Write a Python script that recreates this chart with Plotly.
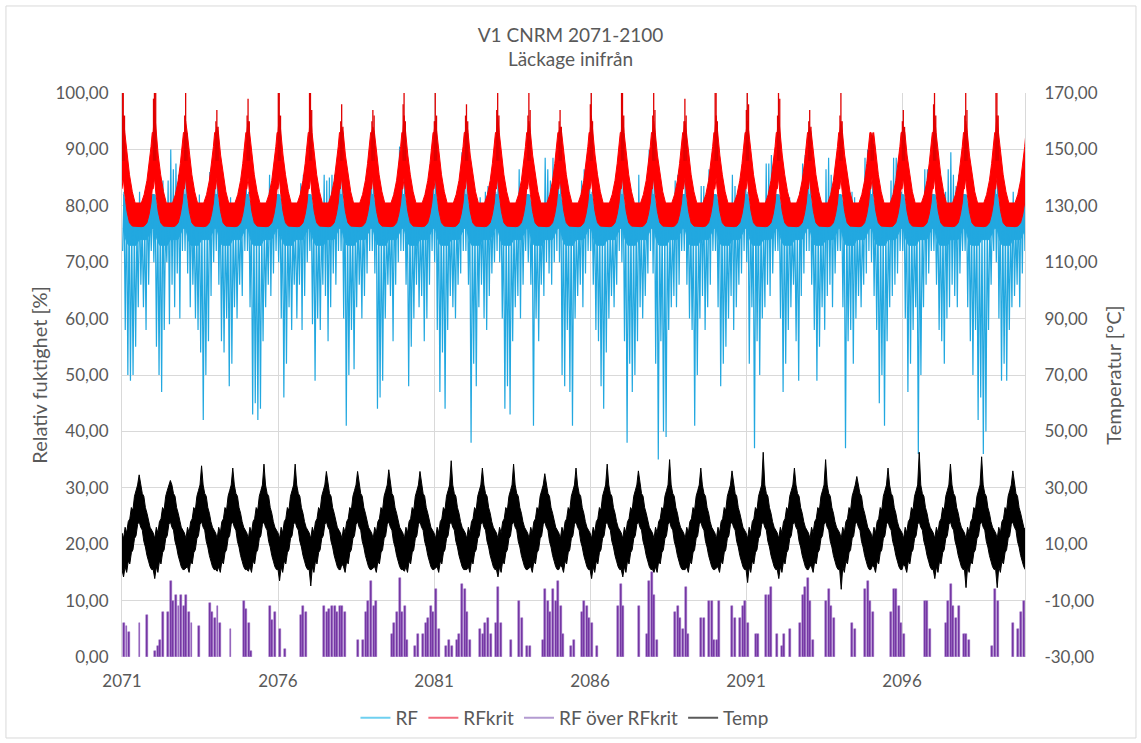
import plotly.graph_objects as go

# ---- data ----
years = list(range(2071, 2100))

# RF: lowest value reached in each month (Jan..Dec), one row per year
rf_lo = [
    [72, 58, 50, 49, 50, 55, 62, 66, 62, 58, 66, 72],  # 2071
    [70, 55, 50, 47, 58, 70, 59, 66, 62, 68, 60, 72],
    [72, 68, 62, 66, 60, 58, 54, 42, 50, 56, 64, 70],
    [72, 66, 56, 54, 60, 48, 52, 62, 60, 66, 64, 72],
    [72, 62, 43, 45, 42, 44, 56, 62, 66, 64, 68, 72],  # 2075
    [70, 60, 46, 52, 62, 58, 66, 60, 66, 58, 64, 70],
    [72, 59, 49, 60, 58, 66, 64, 56, 62, 68, 66, 72],
    [72, 60, 41, 50, 58, 51, 62, 66, 60, 64, 68, 72],
    [72, 68, 44, 46, 49, 60, 66, 64, 56, 66, 70, 72],
    [72, 66, 48, 55, 60, 66, 62, 64, 56, 60, 66, 72],  # 2080
    [70, 58, 47, 54, 44, 58, 64, 62, 60, 66, 68, 72],
    [72, 66, 38, 52, 48, 62, 66, 60, 58, 64, 68, 70],
    [72, 70, 60, 44, 48, 43, 56, 62, 64, 60, 66, 72],
    [70, 66, 41, 60, 56, 66, 64, 70, 68, 66, 70, 72],
    [70, 50, 48, 58, 47, 41, 60, 64, 66, 62, 68, 72],  # 2085
    [72, 66, 58, 56, 48, 44, 54, 60, 64, 62, 66, 72],
    [70, 56, 38, 52, 47, 50, 56, 62, 60, 64, 68, 72],
    [68, 52, 35, 56, 40, 39, 58, 62, 64, 62, 66, 72],
    [72, 66, 60, 58, 41, 50, 60, 64, 58, 62, 66, 72],
    [72, 62, 48, 52, 55, 60, 64, 58, 62, 66, 68, 72],  # 2090
    [70, 52, 62, 37, 56, 50, 60, 62, 66, 64, 68, 72],
    [72, 60, 47, 52, 58, 62, 66, 56, 49, 64, 68, 72],
    [72, 66, 58, 49, 55, 62, 58, 64, 66, 62, 68, 72],
    [72, 62, 37, 56, 58, 52, 60, 64, 62, 66, 68, 72],
    [70, 64, 58, 45, 50, 41, 56, 62, 64, 66, 68, 72],  # 2095
    [72, 60, 47, 52, 58, 62, 36, 50, 62, 66, 68, 72],
    [72, 66, 58, 56, 52, 60, 62, 66, 64, 62, 68, 72],
    [72, 62, 56, 50, 58, 42, 46, 36, 40, 58, 66, 72],
    [70, 60, 49, 52, 49, 58, 62, 64, 66, 62, 68, 72],  # 2099
]
# RF in a typical year: upper level and floor of the dense blue part, per month
rf_top = [82, 80, 78, 77, 77, 77, 77, 77, 77, 78, 80, 82]
rf_core = [76, 74, 73, 73, 73, 73, 74, 74, 74, 74, 75, 76]

# RF över RFkrit: highest bar in each month (Jan..Dec)
over = [
    [6, 5.5, 4.5, 0, 0, 0, 6, 0, 0, 7.5, 0, 0],  # 2071
    [1, 2, 3, 8, 0, 8, 13.5, 10, 11, 9, 11, 9],
    [11, 8, 6, 0, 0, 5.5, 0, 0, 0, 9.5, 8, 7],
    [9, 6, 0, 0, 0, 5, 0, 0, 0, 0, 10, 8.5],
    [6, 1, 0, 0, 0, 0, 0, 0, 9, 6.5, 8, 0],  # 2075
    [5, 0, 1.5, 0, 0, 0, 0, 0, 7.5, 9, 8, 0],
    [0, 0, 0, 0, 0, 9, 8, 8.5, 9, 9, 8, 9],
    [9, 8, 0, 0, 0, 0, 3, 0, 3, 8, 10, 13.5],
    [9, 10, 0, 0, 0, 0, 0, 4, 6, 8, 14, 8],
    [9, 3, 0, 0, 2, 4, 0, 4, 6, 7, 9, 8],  # 2080
    [12, 5, 0, 0, 2, 3, 2, 0, 3, 4, 13, 12],
    [8, 3, 0, 0, 0, 5, 4, 6, 7, 4, 0, 6],
    [12.5, 6, 0, 0, 0, 3, 0, 0, 10, 7, 0, 2],
    [2, 0, 0, 0, 0, 3, 12, 10, 8, 12, 10, 13.5],
    [9, 4, 0, 0, 2, 3, 0, 0, 8, 10, 9, 7],  # 2085
    [6, 0, 2, 0, 0, 0, 0, 0, 0, 0, 9, 13],
    [9, 0, 0, 0, 0, 0, 9, 0, 0, 4, 13.5, 15],
    [11, 3, 0, 0, 0, 0, 0, 0, 8, 9, 7, 5],
    [12.5, 4, 0, 0, 0, 0, 7, 7, 0, 10, 10, 3],
    [3, 10, 0, 0, 0, 0, 9, 7, 0, 7, 9, 10],  # 2090
    [6, 0, 0, 4, 4, 0, 0, 11, 11, 12.5, 0, 4],
    [0, 2, 4, 0, 5, 0, 0, 0, 6, 11, 12.5, 14],
    [10, 3, 0, 0, 0, 0, 10, 12, 9, 7, 0, 0],
    [0, 0, 0, 0, 6, 5, 0, 0, 0, 12, 13.5, 10],
    [8, 0, 0, 0, 0, 0, 0, 8, 12, 12, 9, 6],  # 2095
    [4, 0, 0, 0, 0, 0, 0, 0, 10, 10, 5, 0],
    [0, 0, 0, 0, 6, 10, 13, 9, 7, 9, 0, 4],
    [4, 3, 0, 0, 0, 0, 0, 0, 0, 0, 2, 12],
    [10, 0, 0, 0, 0, 0, 6, 0, 5, 8, 10, 7],  # 2099
]

# RFkrit: top of the dense winter band and the thin spikes above it
krit_top = [96, 97, 95, 94, 95, 96, 97, 94, 94, 96, 95, 95, 96, 95, 94,
            96, 96, 95, 95, 96, 95, 96, 94, 95, 92, 94, 96, 95, 96]
krit_spikes = [
    [100, 100, 96], [99, 100, 100], [96, 100, 93], [95, 97, 94], [96, 99, 95],
    [100, 100, 96], [100, 100, 97], [95, 98, 94], [95, 97, 96], [98, 100, 95],
    [95, 100, 96], [96, 98, 95], [97, 100, 96], [96, 100, 97], [95, 97, 94],
    [98, 100, 95], [100, 100, 96], [96, 100, 97], [95, 99, 96], [100, 100, 95],
    [97, 100, 98], [96, 100, 99], [95, 97, 94], [96, 100, 95], [92, 93, 91],
    [95, 97, 94], [98, 100, 96], [96, 100, 97], [100, 100, 96],
]
# typical-year shape of the RFkrit band (time in fraction of year)
krit_off = [0.00, 0.04, 0.09, 0.16, 0.24, 0.33, 0.42, 0.62, 0.71, 0.80, 0.87, 0.93, 0.97]
krit_up = [93, None, 93, 89, 85.5, 82.5, 80.5, 80.5, 82, 84.5, 87.5, 90.5, 93]
krit_low = [83, 85, 82, 79, 77, 76.4, 76.3, 76.3, 76.4, 77, 78.5, 80.5, 83]
spike_off = [0.01, 0.04, 0.08]
spike_base = 88
krit_floor = 76.5

# Temp (°C, right axis): summer maximum and winter minimum per year
temp_max = [34.6, 32.6, 37.8, 37, 38.4, 38.4, 35.8, 35.8, 36.4, 35.8, 39.6, 37, 38.4, 35, 37,
            38.4, 36, 40, 37, 36, 42.6, 37, 40, 34, 37, 42.6, 38.4, 41, 36]
temp_min = [-1.6, -2.2, 1.6, 0.4, 0.4, -3, -4.8, 3, 1.6, 0.4, 1.6, 1, -1.6, 1.6, 2.4,
            -2.2, -1.6, 0, 1, 1.6, -3.6, -2.2, 2.4, -6, 2.4, 3, -2.2, -5.4, -5.4]
# typical-year edges of the Temp band
temp_off = [0.00, 0.05, 0.10, 0.15, 0.20, 0.25, 0.30, 0.35, 0.40, 0.45,
            0.50, 0.55, 0.60, 0.65, 0.70, 0.75, 0.80, 0.85, 0.90, 0.95]
temp_up = [14, 12, 16, 14, 18, 19, 23, 22, 27, 29, 31, None, 31, 28, 27, 23, 21, 18, 16, 15]
temp_low = [1, None, 2, 0, 4, 3, 7, 8, 12, 13, 17, 18, 16, 15, 11, 9, 6, 4, 2, 1]

x_ticks = [2071, 2076, 2081, 2086, 2091, 2096]
temp_ticks = [-30, -10, 10, 30, 50, 70, 90, 110, 130, 150, 170]

# ---- build traces ----
fig = go.Figure()

# RF: dense core band + zigzag between monthly low and top
cx, cup, clo = [], [], []
for yr in years:
    for m in range(12):
        cx.append(yr + (m + 0.5) / 12)
        cup.append(rf_top[m])
        clo.append(rf_core[m])
fig.add_trace(go.Scatter(x=cx + cx[::-1], y=cup + clo[::-1], mode='lines', fill='toself',
                         fillcolor='#22A8E0', line=dict(color='#22A8E0', width=1),
                         showlegend=False, hoverinfo='skip'))

bx, by = [], []
for i, yr in enumerate(years):
    for m in range(12):
        top = rf_top[m]
        if over[i][m] > 0:
            # RF över RFkrit = RF - RFkrit, and RFkrit sits near its floor then
            top = max(top, krit_floor + over[i][m])
        bx += [yr + (m + 0.25) / 12, yr + (m + 0.75) / 12]
        by += [rf_lo[i][m], top]
fig.add_trace(go.Scatter(x=bx, y=by, mode='lines', line=dict(color='#22A8E0', width=1.2),
                         showlegend=False, hoverinfo='skip'))

# RFkrit: filled band + spikes
kx, kup, klo = [], [], []
for i, yr in enumerate(years):
    for j, off in enumerate(krit_off):
        kx.append(yr + off)
        kup.append(krit_top[i] if krit_up[j] is None else krit_up[j])
        klo.append(krit_low[j])
fig.add_trace(go.Scatter(x=kx + kx[::-1], y=kup + klo[::-1], mode='lines', fill='toself',
                         fillcolor='#FF0000', line=dict(color='#FF0000', width=1),
                         showlegend=False, hoverinfo='skip'))
sx, sy = [], []
for i, yr in enumerate(years):
    for off, v in zip(spike_off, krit_spikes[i]):
        sx += [yr + off, yr + off, None]
        sy += [spike_base, v, None]
fig.add_trace(go.Scatter(x=sx, y=sy, mode='lines', line=dict(color='#E00000', width=1.3),
                         showlegend=False, hoverinfo='skip'))

# RF över RFkrit: thin bars
ox, oy = [], []
for i, yr in enumerate(years):
    for m in range(12):
        if over[i][m] > 0:
            ox.append(yr + (m + 0.75) / 12)
            oy.append(over[i][m])
fig.add_trace(go.Bar(x=ox, y=oy, width=0.06,
                     marker=dict(color='#7030A0', line=dict(width=0.5, color='#9A6CC4')),
                     showlegend=False, hoverinfo='skip'))

# Temp: filled band on the right axis
tx, tup, tlo = [], [], []
for i, yr in enumerate(years):
    for j, off in enumerate(temp_off):
        tx.append(yr + off)
        tup.append(temp_max[i] if temp_up[j] is None else temp_up[j])
        tlo.append(temp_min[i] if temp_low[j] is None else temp_low[j])
fig.add_trace(go.Scatter(x=tx + tx[::-1], y=tup + tlo[::-1], mode='lines', fill='toself',
                         fillcolor='#000000', line=dict(color='#000000', width=1),
                         yaxis='y2', showlegend=False, hoverinfo='skip'))

# legend handles
for name, c in [('RF', '#6FD0F0'), ('RFkrit', '#F26D7D'),
                ('RF över RFkrit', '#B39BD1'), ('Temp', '#5A5A5A')]:
    fig.add_trace(go.Scatter(x=[None], y=[None], mode='lines', name=name,
                             line=dict(color=c, width=2)))

fig.update_layout(
    width=1141, height=743,
    margin=dict(l=122, r=116, t=93, b=86, autoexpand=False),
    paper_bgcolor='white', plot_bgcolor='white',
    separators=', ',
    font=dict(family='Lato, Open Sans, sans-serif', size=17, color='#595959'),
    title=dict(text='V1 CNRM 2071-2100<br>Läckage inifrån', x=0.5, xanchor='center',
               y=0.944, yanchor='middle', font=dict(size=19, color='#595959')),
    legend=dict(orientation='h', x=0.49, xanchor='center', y=-0.108, yanchor='middle',
                font=dict(size=19), itemwidth=30),
    bargap=0,
    shapes=[dict(type='rect', xref='paper', yref='paper', x0=-0.1285, x1=1.1229,
                 y0=-0.1436, y1=1.1543, line=dict(color='#D9D9D9', width=1))],
)
fig.update_xaxes(range=[2071, 2099.94], tickvals=x_ticks, ticktext=[str(t) for t in x_ticks],
                 showgrid=True, gridcolor='#D9D9D9', gridwidth=1, zeroline=False,
                 showline=False, ticks='', ticklabelstandoff=12, automargin=False)
fig.update_layout(
    yaxis=dict(range=[0, 100], dtick=10, tickformat='.2f', showgrid=True, gridcolor='#D9D9D9',
               zeroline=False, showline=True, linecolor='#D9D9D9', ticks='', automargin=False,
               ticklabelstandoff=9, title=dict(text='Relativ fuktighet [%]', standoff=2)),
    yaxis2=dict(range=[-30, 170], tickvals=temp_ticks,
                ticktext=[f'{t:.2f}'.replace('.', ',') for t in temp_ticks],
                overlaying='y', side='right', showgrid=False, zeroline=False, showline=True,
                linecolor='#D9D9D9', ticks='', automargin=False, ticklabelstandoff=15,
                title=dict(text='Temperatur [°C]', standoff=10)),
)

# the page body has a default margin; drop it so the chart fills the window exactly
fig.write_html("out.html", config={'displayModeBar': False},
               post_script="document.body.style.margin='0';")
